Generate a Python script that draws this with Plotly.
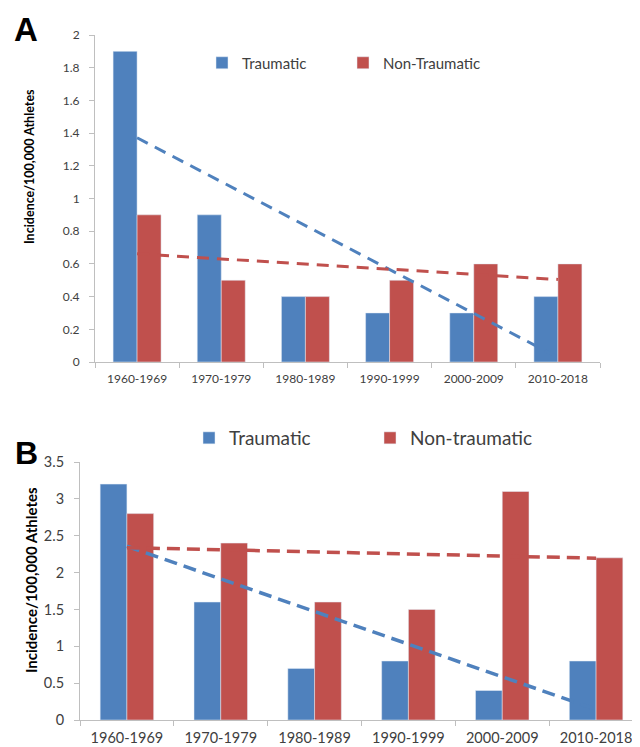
import numpy as np
import plotly.graph_objects as go

categories = ["1960-1969", "1970-1979", "1980-1989", "1990-1999", "2000-2009", "2010-2018"]
a_traumatic = [1.9, 0.9, 0.4, 0.3, 0.3, 0.4]
a_nontraumatic = [0.9, 0.5, 0.4, 0.5, 0.6, 0.6]
b_traumatic = [3.2, 1.6, 0.7, 0.8, 0.4, 0.8]
b_nontraumatic = [2.8, 2.4, 1.6, 1.5, 3.1, 2.2]

BLUE = "#4F81BD"
RED = "#C0504D"
AX = "#BFBFBF"
TXT = "#404040"
FONT = "Lato"

W, H, OFF = 640, 747, 8  # page body margin offsets the figure by 8px


def px(sx):
    return (sx - OFF) / W


def py(sy):
    return 1 - (sy - OFF) / H


def trend(vals):
    x = np.arange(1, len(vals) + 1)
    m, b = np.polyfit(x, vals, 1)
    return list(m * x + b)


fig = go.Figure()

# Panel A
fig.add_trace(go.Bar(x=categories, y=a_traumatic, name="Traumatic", marker_color=BLUE,
                     xaxis="x", yaxis="y", legend="legend"))
fig.add_trace(go.Bar(x=categories, y=a_nontraumatic, name="Non-Traumatic", marker_color=RED,
                     xaxis="x", yaxis="y", legend="legend"))
fig.add_trace(go.Scatter(x=categories, y=trend(a_traumatic), mode="lines", showlegend=False,
                         line=dict(color=BLUE, width=3, dash="12px,8px"), xaxis="x", yaxis="y"))
fig.add_trace(go.Scatter(x=categories, y=trend(a_nontraumatic), mode="lines", showlegend=False,
                         line=dict(color=RED, width=3, dash="12px,8px"), xaxis="x", yaxis="y"))

# Panel B
fig.add_trace(go.Bar(x=categories, y=b_traumatic, name="Traumatic", marker_color=BLUE,
                     xaxis="x2", yaxis="y2", legend="legend2"))
fig.add_trace(go.Bar(x=categories, y=b_nontraumatic, name="Non-traumatic", marker_color=RED,
                     xaxis="x2", yaxis="y2", legend="legend2"))
fig.add_trace(go.Scatter(x=categories, y=trend(b_traumatic), mode="lines", showlegend=False,
                         line=dict(color=BLUE, width=3.5, dash="13px,7px"), xaxis="x2", yaxis="y2"))
fig.add_trace(go.Scatter(x=categories, y=trend(b_nontraumatic), mode="lines", showlegend=False,
                         line=dict(color=RED, width=3.5, dash="13px,7px"), xaxis="x2", yaxis="y2"))

xcommon = dict(type="category", showline=True, linecolor=AX, linewidth=1, ticks="outside",
               tickson="boundaries", tickcolor=AX, ticklen=5, showgrid=False, zeroline=False,
               automargin=False)
ycommon = dict(showline=True, linecolor=AX, linewidth=1, ticks="outside", tickcolor=AX,
               ticklen=5, showgrid=False, zeroline=False, automargin=False)

fig.update_layout(
    width=W, height=H,
    autosize=False,
    margin=dict(l=0, r=0, t=0, b=0, pad=0),
    paper_bgcolor="white", plot_bgcolor="white",
    font=dict(family=FONT, color=TXT),
    barmode="group", bargap=0.43, bargroupgap=0,
    xaxis=dict(domain=[px(95), px(600)], anchor="y", ticklabelstandoff=6,
               tickfont=dict(size=12, color=TXT), **xcommon),
    yaxis=dict(domain=[py(362), py(35)], anchor="x", range=[0, 2], dtick=0.2,
               ticklabelstandoff=7, tickfont=dict(size=12, color=TXT), **ycommon),
    xaxis2=dict(domain=[px(80), px(643)], anchor="y2", ticklabelstandoff=5,
                tickfont=dict(size=14.5, color=TXT), **xcommon),
    yaxis2=dict(domain=[py(720), py(462)], anchor="x2", range=[0, 3.5], dtick=0.5,
                ticklabelstandoff=7, tickfont=dict(size=14.5, color=TXT), **ycommon),
    legend=dict(orientation="h", x=px(202), y=py(63), xanchor="left", yanchor="middle",
                entrywidth=96, entrywidthmode="pixels", font=dict(size=15, color=TXT),
                bgcolor="rgba(0,0,0,0)", itemwidth=30),
    legend2=dict(orientation="h", x=px(189), y=py(438), xanchor="left", yanchor="middle",
                 entrywidth=136, entrywidthmode="pixels", font=dict(size=19, color=TXT),
                 bgcolor="rgba(0,0,0,0)", itemwidth=30),
    annotations=[
        dict(text="<b>A</b>", x=px(25.5), y=py(29), xref="paper", yref="paper",
             xanchor="center", yanchor="middle",
             showarrow=False, font=dict(family="Liberation Sans", size=33, color="black")),
        dict(text="<b>B</b>", x=px(26), y=py(453), xref="paper", yref="paper",
             xanchor="center", yanchor="middle",
             showarrow=False, font=dict(family="Liberation Sans", size=32, color="black")),
        dict(text="<b>Incidence/100,000 Athletes</b>", x=px(29), y=py(167),
             xref="paper", yref="paper", showarrow=False, textangle=-90,
             xanchor="center", yanchor="middle",
             font=dict(size=12.5, color="black")),
        dict(text="<b>Incidence/100,000 Athletes</b>", x=px(31), y=py(580),
             xref="paper", yref="paper", showarrow=False, textangle=-90,
             xanchor="center", yanchor="middle",
             font=dict(size=15, color="black")),
    ],
)

fig.write_html("out.html")
